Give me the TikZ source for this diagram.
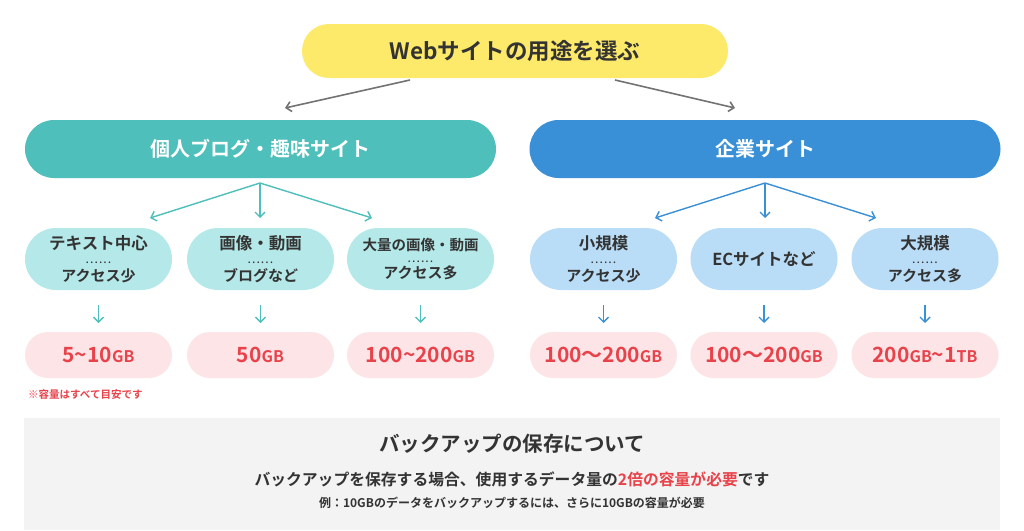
\documentclass[tikz,border=0pt]{standalone}
\usepackage{fontspec}
\setmainfont{Noto Sans CJK JP}[BoldFont={Noto Sans CJK JP Bold}]
\usetikzlibrary{arrows.meta}
\definecolor{ylw}{HTML}{FDE96A}
\definecolor{teal1}{HTML}{4FBFBB}
\definecolor{blue1}{HTML}{3A90D6}
\definecolor{lteal}{HTML}{B5E8E8}
\definecolor{lblue}{HTML}{B9DCF7}
\definecolor{pinkbg}{HTML}{FDE5E7}
\definecolor{redt}{HTML}{E8434B}
\definecolor{txt}{HTML}{333333}
\definecolor{grybg}{HTML}{F3F3F3}
\begin{document}
\begin{tikzpicture}[x=1pt,y=-1pt,
 pill/.style={rounded corners=#1, inner sep=0pt, align=center},
 big/.style={minimum width=471pt,minimum height=58pt,pill=29pt,text=white,font=\bfseries\fontsize{20}{22}\selectfont},
 sub/.style={minimum width=147pt,minimum height=62pt,pill=31pt,text=txt,font=\bfseries\fontsize{16.5}{18}\selectfont},
 res/.style={fill=pinkbg,minimum width=147pt,minimum height=46pt,pill=23pt,text=redt,font=\bfseries\fontsize{21}{22}\selectfont},
 arr/.style={-{Straight Barb[length=5pt,width=10pt]},line width=1.4pt}]
\useasboundingbox (0,0) rectangle (1024,530);
\fill[white] (0,0) rectangle (1024,530);
\node[fill=ylw,minimum width=426pt,minimum height=54pt,pill=27pt,text=txt,font=\bfseries\fontsize{22.5}{24}\selectfont] (top) at (515,51) {Webサイトの用途を選ぶ};
\node[big,fill=teal1] (L) at (260.5,149) {個人ブログ・趣味サイト};
\node[big,fill=blue1] (R) at (765,149) {企業サイト};
\coordinate (ta) at (410,80); \coordinate (tb) at (615,80);
\draw[arr,gray!90!black,line width=1.6pt] (ta) -- (285,108);
\draw[arr,gray!90!black,line width=1.6pt] (tb) -- (735,108);
\newcommand\subtxt[2]{#1\\[-2pt]{\fontsize{9}{6}\selectfont\raisebox{2pt}{.\,.\,.\,.\,.\,.}}\\[-2pt]{\fontsize{15}{17}\selectfont #2}}
\node[sub,fill=lteal] (a1) at (98.5,259) {\subtxt{テキスト中心}{アクセス少}};
\node[sub,fill=lteal] (a2) at (260.5,259) {\subtxt{画像・動画}{ブログなど}};
\node[sub,fill=lteal,font=\bfseries\fontsize{14.5}{16}\selectfont] (a3) at (420.5,259) {\subtxt{大量の画像・動画}{アクセス多}};
\node[sub,fill=lblue] (b1) at (603.5,259) {\subtxt{小規模}{アクセス少}};
\node[sub,fill=lblue] (b2) at (764,259) {ECサイトなど};
\node[sub,fill=lblue] (b3) at (925,259) {\subtxt{大規模}{アクセス多}};
\coordinate (lc) at (260,183); \coordinate (rc) at (765,183);
\foreach \x in {150,260,372} \draw[arr,teal1] (lc) -- (\x,218);
\foreach \x in {655,765,876} \draw[arr,blue1] (rc) -- (\x,218);
\newcommand\gb[1]{{\fontsize{16}{18}\selectfont #1}}
\node[res] (c1) at (98.5,355) {5\textasciitilde10\gb{GB}};
\node[res] (c2) at (260.5,355) {50\gb{GB}};
\node[res] (c3) at (420.5,355) {100\textasciitilde200\gb{GB}};
\node[res] (d1) at (603.5,355) {100〜200\gb{GB}};
\node[res] (d2) at (764,355) {100〜200\gb{GB}};
\node[res] (d3) at (925,355) {200\gb{GB}\textasciitilde1\gb{TB}};
\foreach \s/\t/\c in {a1/c1/teal1,a2/c2/teal1,a3/c3/teal1,b1/d1/blue1,b2/d2/blue1,b3/d3/blue1}
  \draw[arr,\c] (\s.south |- 0,305) -- (\t.north |- 0,323);
\node[anchor=west,text=redt,font=\bfseries\fontsize{10.5}{12}\selectfont,inner sep=0pt] (note) at (28,395) {※容量はすべて目安です};
\fill[grybg] (24,418) rectangle (1000,530);
\node[text=txt,font=\bfseries\fontsize{20.5}{22}\selectfont] (h) at (512,444) {バックアップの保存について};
\node[text=txt,font=\bfseries\fontsize{15.8}{17}\selectfont] (h2) at (512,479) {バックアップを保存する場合、使用するデータ量の\textcolor{redt}{2倍の容量が必要}です};
\node[text=txt,font=\bfseries\fontsize{12}{14}\selectfont] (h3) at (512,503) {例：10GBのデータをバックアップするには、さらに10GBの容量が必要};
\end{tikzpicture}
\end{document}
